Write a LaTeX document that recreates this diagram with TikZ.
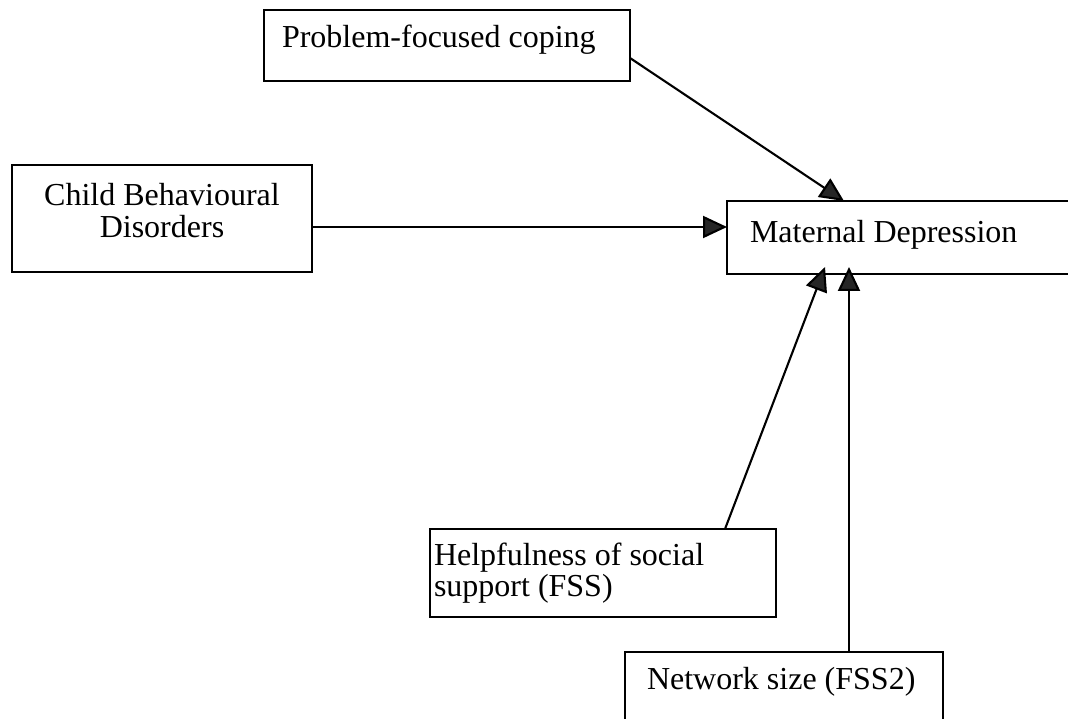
\documentclass[tikz,border=0pt]{standalone}
\usepackage{fontspec}
\setmainfont{Liberation Serif}
\usetikzlibrary{arrows.meta}
\begin{document}
\begin{tikzpicture}[x=1pt,y=-1pt,
  box/.style={draw=black, line width=2.1pt, rectangle, inner sep=0pt, outer sep=0pt},
  lbl/.style={inner sep=0pt, outer sep=0pt, font=\fontsize{32}{31}\selectfont},
  arr/.style={line width=2.1pt, -{Triangle[length=24pt,width=22pt,fill=black!85]}}]
  \useasboundingbox (0,0) rectangle (1068,719);
  \clip (0,0) rectangle (1068,719);

  % boxes
  \node[box, minimum width=366pt, minimum height=71pt]  (pfc)  at (447,45.5)  {};
  \node[box, minimum width=300pt, minimum height=107pt] (cbd)  at (162,218.5) {};
  \node[box, minimum width=353pt, minimum height=73pt]  (md)   at (903.5,237.5) {};
  \node[box, minimum width=346pt, minimum height=88pt]  (help) at (603,573)   {};
  \node[box, minimum width=318pt, minimum height=78pt]  (net)  at (784,691)   {};

  % labels
  \node[lbl, anchor=base west] (pfc-t) at (282,48) {Problem-focused coping};
  \node[lbl, anchor=base] (cbd-t) at (162,206)
    {\begin{tabular}[t]{@{}c@{}}Child Behavioural\\Disorders\end{tabular}};
  \node[lbl, anchor=base west] (md-t) at (750,243) {Maternal Depression};
  \node[lbl, anchor=base west] (help-t) at (434,565)
    {\begin{tabular}[t]{@{}l@{}}Helpfulness of social\\support (FSS)\end{tabular}};
  \node[lbl, anchor=base west] (net-t) at (647,689) {Network size (FSS2)};

  % paths into Maternal Depression
  \draw[arr] ([yshift=-48pt]pfc.north east) -- ([xshift=117pt]md.north west);
  \coordinate (c1) at ([yshift=-8.5pt]cbd.east);
  \draw[arr] (c1) -- (c1 -| md.west);
  \draw[arr] ([xshift=295pt]help.north west) -- ([xshift=98pt,yshift=7pt]md.south west);
  \coordinate (c2) at ([xshift=224pt]net.north west);
  \coordinate (t2) at ([yshift=7pt]md.south west);
  \draw[arr] (c2) -- (c2 |- t2);
\end{tikzpicture}
\end{document}
